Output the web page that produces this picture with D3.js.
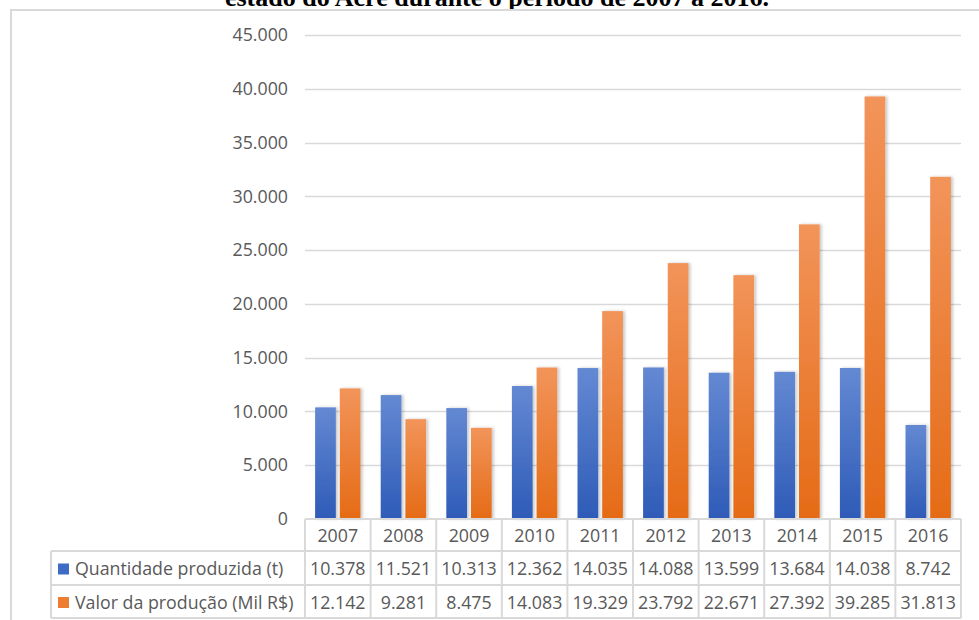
<!DOCTYPE html>
<html>
<head>
<meta charset="utf-8">
<script src="https://cdn.jsdelivr.net/npm/d3@7"></script>
<style>
  body { margin: 0; background: #fff; }
  svg { display: block; }
</style>
</head>
<body>
<svg id="chart" width="979" height="620"></svg>
<script>
const years = ["2007", "2008", "2009", "2010", "2011", "2012", "2013", "2014", "2015", "2016"];
const quantidade = [10378, 11521, 10313, 12362, 14035, 14088, 13599, 13684, 14038, 8742];
const valor = [12142, 9281, 8475, 14083, 19329, 23792, 22671, 27392, 39285, 31813];
const seriesNames = ["Quantidade produzida (t)", "Valor da produção (Mil R$)"];
const yTicks = [0, 5000, 10000, 15000, 20000, 25000, 30000, 35000, 40000, 45000];
const title = "estado do Acre durante o período de 2007 a 2016.";

const fmt = function (v) {
  return d3.format(",")(v).replace(/,/g, ".");
};

const svg = d3.select("#chart");
const font = "'Open Sans', 'Noto Sans', sans-serif";
const fontSize = "17.8px";
const textColor = "#595959";
const lineColor = "#d9d9d9";

const x0 = 305, x1 = 961, yTop = 35, yBase = 519;

const x = d3.scaleBand().domain(years).range([x0, x1]);
const xs = d3.scaleBand().domain([0, 1]).range([0, x.bandwidth()]).paddingInner(0.16).paddingOuter(0.41);
const y = d3.scaleLinear().domain([0, 45000]).range([yBase, yTop]);

const defs = svg.append("defs");
function grad(id, top, bottom) {
  const g = defs.append("linearGradient").attr("id", id)
    .attr("x1", 0).attr("y1", 0).attr("x2", 0).attr("y2", 1);
  g.append("stop").attr("offset", "0%").attr("stop-color", top);
  g.append("stop").attr("offset", "100%").attr("stop-color", bottom);
}
grad("gBlue", "#6489d3", "#2e5bb7");
grad("gOrange", "#f2945a", "#e56b16");
const colors = ["url(#gBlue)", "url(#gOrange)"];
const keyColors = ["#3e6bc4", "#ed7d31"];

const shadow = defs.append("filter").attr("id", "shadow")
  .attr("x", "-20%").attr("y", "-5%").attr("width", "160%").attr("height", "110%");
shadow.append("feDropShadow").attr("dx", 2).attr("dy", 0).attr("stdDeviation", 1.5)
  .attr("flood-color", "#000").attr("flood-opacity", 0.22);

// title (cut off by the top of the page, as in the original)
svg.append("text")
  .attr("x", 497).attr("y", 6)
  .attr("text-anchor", "middle")
  .style("font-family", "'Liberation Serif', 'Times New Roman', serif")
  .style("font-weight", "bold")
  .style("font-size", "26px")
  .text(title);

// chart border
svg.append("rect")
  .attr("x", 11).attr("y", 10).attr("width", 990).attr("height", 640)
  .attr("fill", "none").attr("stroke", lineColor).attr("stroke-width", 2);

// gridlines
svg.append("g").selectAll("line")
  .data(yTicks.filter(d => d > 0))
  .join("line")
  .attr("x1", x0).attr("x2", x1)
  .attr("y1", d => Math.round(y(d)) + 0.5).attr("y2", d => Math.round(y(d)) + 0.5)
  .attr("stroke", lineColor).attr("stroke-width", 1.5);

// y labels
svg.append("g").selectAll("text")
  .data(yTicks)
  .join("text")
  .attr("x", 288).attr("y", d => y(d))
  .attr("dy", "0.35em")
  .attr("text-anchor", "end")
  .style("font-family", font).style("font-size", fontSize)
  .attr("fill", textColor)
  .text(d => d === 0 ? "0" : fmt(d));

// bars
const series = [quantidade, valor];
const groups = svg.append("g").selectAll("g")
  .data(years)
  .join("g")
  .attr("transform", d => `translate(${x(d)},0)`);

groups.selectAll("rect")
  .data((d, i) => series.map((s, k) => ({ k: k, v: s[i] })))
  .join("rect")
  .attr("x", d => xs(d.k))
  .attr("width", xs.bandwidth())
  .attr("y", d => y(d.v))
  .attr("height", d => y(0) - y(d.v))
  .attr("fill", d => colors[d.k])
  .attr("filter", "url(#shadow)");

// data table
const rowTops = [519, 551, 585, 618];
const legendLeft = 51;
const tbl = svg.append("g");

// horizontal lines
tbl.append("line").attr("x1", x0).attr("x2", x1).attr("y1", rowTops[0]).attr("y2", rowTops[0])
  .attr("stroke", lineColor).attr("stroke-width", 2);
[1, 2, 3].forEach(function (r) {
  tbl.append("line").attr("x1", legendLeft).attr("x2", x1)
    .attr("y1", rowTops[r]).attr("y2", rowTops[r])
    .attr("stroke", lineColor).attr("stroke-width", 2);
});
// vertical lines
const colEdges = years.map(d => x(d)).concat([x1]);
tbl.selectAll("line.v")
  .data(colEdges)
  .join("line")
  .attr("class", "v")
  .attr("x1", d => d).attr("x2", d => d)
  .attr("y1", rowTops[0]).attr("y2", rowTops[3])
  .attr("stroke", lineColor).attr("stroke-width", 2);
tbl.append("line").attr("x1", legendLeft).attr("x2", legendLeft)
  .attr("y1", rowTops[1]).attr("y2", rowTops[3])
  .attr("stroke", lineColor).attr("stroke-width", 2);

// year header
tbl.selectAll("text.yr")
  .data(years)
  .join("text")
  .attr("class", "yr")
  .attr("x", d => x(d) + x.bandwidth() / 2)
  .attr("y", (rowTops[0] + rowTops[1]) / 2 + 1)
  .attr("dy", "0.35em")
  .attr("text-anchor", "middle")
  .style("font-family", font).style("font-size", fontSize)
  .attr("fill", textColor)
  .text(d => d);

series.forEach(function (s, k) {
  const cy = (rowTops[k + 1] + rowTops[k + 2]) / 2 + 1;
  tbl.append("rect")
    .attr("x", 58).attr("y", cy - 5.5).attr("width", 11).attr("height", 11)
    .attr("fill", keyColors[k]);
  tbl.append("text")
    .attr("x", 75).attr("y", cy).attr("dy", "0.35em")
    .style("font-family", font).style("font-size", fontSize)
    .attr("fill", textColor)
    .text(seriesNames[k]);
  tbl.selectAll("text.v" + k)
    .data(s)
    .join("text")
    .attr("class", "v" + k)
    .attr("x", (d, i) => x(years[i]) + x.bandwidth() / 2)
    .attr("y", cy).attr("dy", "0.35em")
    .attr("text-anchor", "middle")
    .style("font-family", font).style("font-size", fontSize)
    .attr("fill", textColor)
    .text(d => fmt(d));
});
</script>
</body>
</html>
